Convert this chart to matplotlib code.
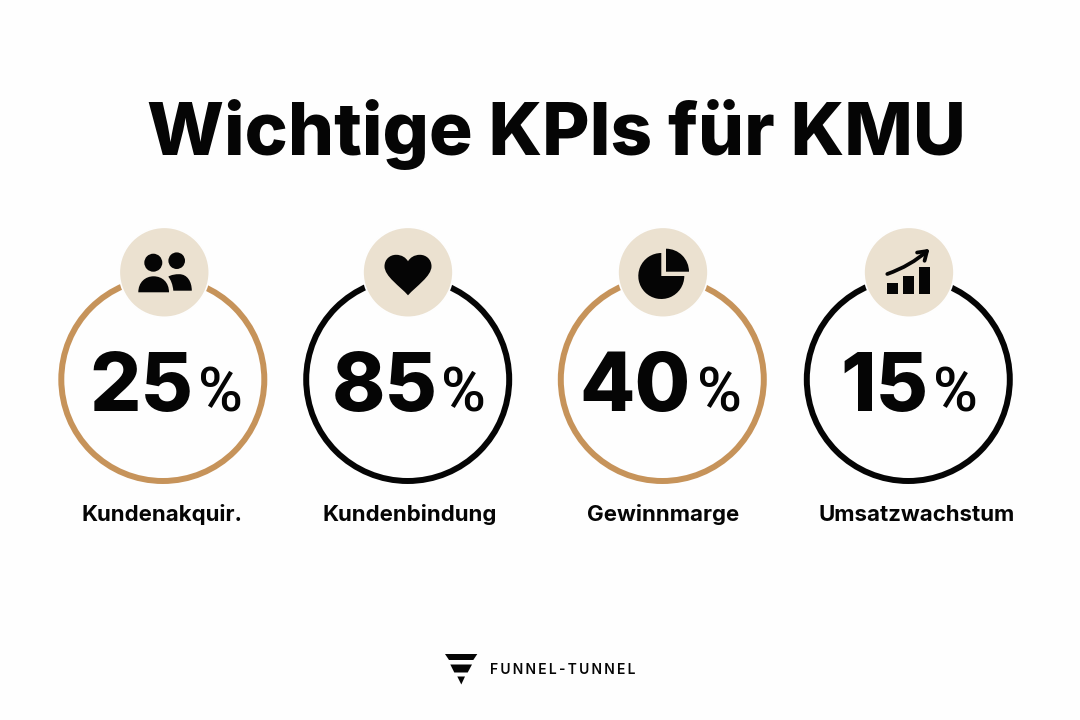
import matplotlib
matplotlib.use('Agg')
import matplotlib.pyplot as plt
from matplotlib.patches import Circle, Wedge, Polygon, PathPatch, Rectangle, FancyArrowPatch
from matplotlib.path import Path

title = 'Wichtige KPIs für KMU'
kpi_values = [25, 85, 40, 15]
kpi_labels = ['Kundenakquir.', 'Kundenbindung', 'Gewinnmarge', 'Umsatzwachstum']
brand = 'FUNNEL-TUNNEL'

ring_x = [162.8, 407.7, 662.3, 908.3]
badge_x = [164.3, 408, 663, 909]
number_x = [141.5, 384.5, 635, 884]
percent_x = [220, 463.5, 719.5, 955]
label_x = [162, 410, 663, 917]
ring_colors = ['#c6935a', '#050505', '#c6935a', '#050505']

INK = '#050505'
BADGE = '#ebe1d0'
FONT = ['Inter', 'Liberation Sans', 'DejaVu Sans']
PCT_FONT = ['Roboto', 'Liberation Sans', 'DejaVu Sans']

fig = plt.figure(figsize=(10.8, 7.2), dpi=100, facecolor='#fefefe')
# one axes over the whole figure, in pixels with y going down
ax = fig.add_axes([0, 0, 1, 1])
ax.set_xlim(0, 1080)
ax.set_ylim(720, 0)
ax.axis('off')


def people_icon(cx, cy):
    ax.add_patch(Circle((cx - 11, cy - 9.6), 9, color=INK, lw=0))
    ax.add_patch(Circle((cx + 12.4, cy - 11.6), 8.3, color=INK, lw=0))
    # front shoulders
    x, y = cx - 26, cy + 20
    front = Path([(x, y), (x, y - 10), (x + 7, y - 16), (x + 15.3, y - 16),
                  (x + 24, y - 16), (x + 30.7, y - 10), (x + 30.7, y), (x, y)],
                 [Path.MOVETO, Path.CURVE4, Path.CURVE4, Path.CURVE4, Path.CURVE4, Path.CURVE4,
                  Path.CURVE4, Path.CLOSEPOLY])
    ax.add_patch(PathPatch(front, color=INK, lw=0))
    # back shoulders, cut off by the front one
    x, y = cx + 9, cy + 18.4
    back = Path([(x, y), (x - 0.5, y - 6), (x - 2.5, y - 11), (x - 5, y - 14),
                 (x - 2, y - 16), (x + 2, y - 16.5), (x + 6, y - 16.5),
                 (x + 14, y - 16.5), (x + 18.5, y - 9), (x + 18.5, y), (x, y)],
                [Path.MOVETO, Path.CURVE4, Path.CURVE4, Path.CURVE4, Path.CURVE4, Path.CURVE4, Path.CURVE4,
                 Path.CURVE4, Path.CURVE4, Path.CURVE4, Path.CLOSEPOLY])
    ax.add_patch(PathPatch(back, color=INK, lw=0))


def heart_icon(cx, cy):
    verts = [(cx, cy + 23), (cx - 8, cy + 14), (cx - 23.5, cy + 4), (cx - 23.5, cy - 6),
             (cx - 23.5, cy - 13), (cx - 18, cy - 17.5), (cx - 12, cy - 17.5),
             (cx - 6, cy - 17.5), (cx - 2, cy - 14.5), (cx, cy - 11),
             (cx + 2, cy - 14.5), (cx + 6, cy - 17.5), (cx + 12, cy - 17.5),
             (cx + 18, cy - 17.5), (cx + 23.5, cy - 13), (cx + 23.5, cy - 6),
             (cx + 23.5, cy + 4), (cx + 8, cy + 14), (cx, cy + 23), (cx, cy + 23)]
    codes = [Path.MOVETO] + [Path.CURVE4] * 18 + [Path.CLOSEPOLY]
    ax.add_patch(PathPatch(Path(verts, codes), color=INK, lw=0))


def pie_icon(cx, cy):
    ax.add_patch(Wedge((cx - 1.7, cy + 3.7), 23, 0, 270, color=INK, lw=0))
    ax.add_patch(Wedge((cx + 3, cy - 0.6), 23, 270, 360, color=INK, lw=0))


def growth_icon(cx, cy):
    ax.add_patch(Rectangle((cx - 21.7, cy + 11), 10.4, 10.7, color=INK, lw=0))
    ax.add_patch(Rectangle((cx - 5.7, cy + 3.4), 10.7, 18.3, color=INK, lw=0))
    ax.add_patch(Rectangle((cx + 10.3, cy - 5.3), 10.7, 27, color=INK, lw=0))
    ax.add_patch(FancyArrowPatch((cx - 21.7, cy + 1.7), (cx + 20.5, cy - 23.5),
                                 connectionstyle='arc3,rad=0.1', arrowstyle='->,head_length=6,head_width=4',
                                 color=INK, lw=2.7, shrinkA=0, shrinkB=0))


icons = [people_icon, heart_icon, pie_icon, growth_icon]

ax.text(556.5, 155, title, fontsize=52.4, fontweight=800, family=FONT, color=INK, ha='center', va='baseline')

for i, value in enumerate(kpi_values):
    ax.add_patch(Circle((ring_x[i], 379.5), 101.5, fill=False, ec=ring_colors[i], lw=4.3))
    ax.add_patch(Circle((badge_x[i], 272.3), 45, fc=BADGE, ec='#fefefe', lw=1.2))
    icons[i](badge_x[i], 272.3)
    ax.text(number_x[i], 411.5, str(value), fontsize=58, fontweight=800, family=FONT, color=INK,
            ha='center', va='baseline')
    ax.text(percent_x[i], 411.5, '%', fontsize=44, fontweight=500, family=PCT_FONT, color=INK,
            ha='center', va='baseline')
    ax.text(label_x[i], 521, kpi_labels[i], fontsize=16, fontweight=700, family=FONT, color=INK,
            ha='center', va='baseline')

# logo: three stacked bands of a funnel
ax.add_patch(Polygon([(445, 654), (477.3, 654), (473.3, 660), (449, 660)], color=INK, lw=0))
ax.add_patch(Polygon([(450.3, 664.5), (472, 664.5), (467.7, 672.5), (454.3, 672.5)], color=INK, lw=0))
ax.add_patch(Polygon([(457.3, 676.5), (465, 676.5), (461.3, 684.5)], color=INK, lw=0))
ax.text(563, 674, '\u2009'.join(brand), fontsize=10, fontweight=600, family=FONT, color=INK,
        ha='center', va='baseline')

fig.savefig('out.png', dpi=100, facecolor=fig.get_facecolor())
